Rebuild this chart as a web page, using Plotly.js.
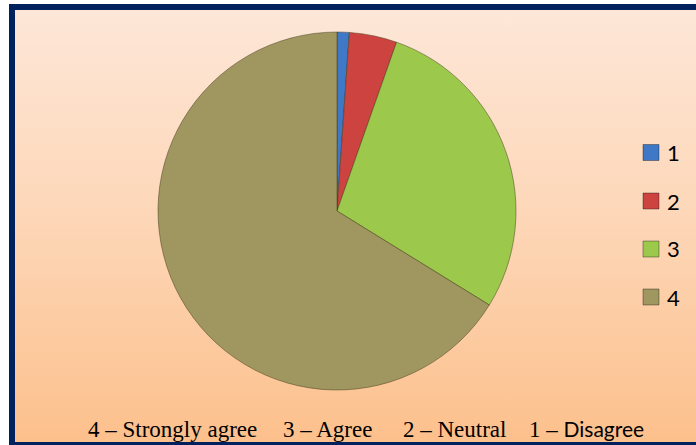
<!DOCTYPE html>
<html>
<head>
<meta charset="utf-8">
<script src="https://cdn.plot.ly/plotly-3.0.1.min.js"></script>
<style>
  html, body { margin:0; padding:0; background:#ffffff; width:696px; height:445px; overflow:hidden; }
  #frame { position:absolute; left:9px; top:4px; width:700px; height:432px; border:6px solid #00205e;
           background:linear-gradient(to bottom, #fde7d8 0%, #fdd6b6 50%, #fcc08c 100%); }
  #chart { position:absolute; left:0; top:0; width:696px; height:445px; }
</style>
</head>
<body>
<div id="frame"></div>
<div id="chart"></div>
<script>
const categories = ['1', '2', '3', '4'];
const shares = [1.1, 4.3, 28.4, 66.2];
const sliceColors = ['#3f78c6', '#cc4340', '#9cc84c', '#a09660'];
const footnoteParts = ['4 \u2013 Strongly agree', '3 \u2013 Agree', '2 \u2013 Neutral',
  '1 \u2013 <span style="font-family:Lato;font-size:21px">Disagree</span>'];

const W = 696, H = 445;
const px = v => v / W, py = v => 1 - v / H;

const trace = {
  type: 'pie',
  labels: categories,
  values: shares,
  sort: false,
  direction: 'clockwise',
  rotation: 0,
  textinfo: 'none',
  hoverinfo: 'label+percent',
  marker: { colors: sliceColors, line: { color: 'rgba(60,50,20,0.45)', width: 1 } },
  domain: { x: [px(158), px(516)], y: [py(390), py(32)] },
  showlegend: false
};

const shapes = [];
const annotations = [];
const legendY = [152.5, 201, 249, 297];
categories.forEach((c, i) => {
  shapes.push({ type: 'rect', xref: 'paper', yref: 'paper',
    x0: px(643), x1: px(659), y0: py(legendY[i] + 8), y1: py(legendY[i] - 8),
    fillcolor: sliceColors[i], line: { color: 'rgba(0,0,0,0.35)', width: 1 } });
  annotations.push({ xref: 'paper', yref: 'paper', x: px(665), y: py(legendY[i]),
    xanchor: 'left', yanchor: 'middle', showarrow: false, text: c,
    font: { family: 'Lato', size: 22, color: '#000' } });
});
const footX = [86, 281, 401, 527];
footnoteParts.forEach((t, i) => {
  annotations.push({ xref: 'paper', yref: 'paper', x: px(footX[i]), y: py(429),
    xanchor: 'left', yanchor: 'middle', showarrow: false, text: t,
    font: { family: 'Liberation Serif', size: 23, color: '#000' } });
});

Plotly.newPlot('chart', [trace], {
  width: W, height: H,
  margin: { l: 0, r: 0, t: 0, b: 0 },
  paper_bgcolor: 'rgba(0,0,0,0)',
  plot_bgcolor: 'rgba(0,0,0,0)',
  shapes: shapes,
  annotations: annotations
}, { displayModeBar: false, staticPlot: true });
</script>
</body>
</html>
